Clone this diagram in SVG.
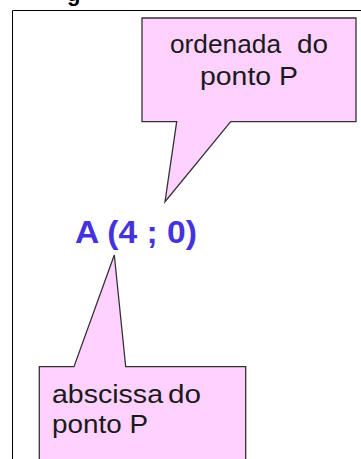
<svg xmlns="http://www.w3.org/2000/svg" width="361" height="459" viewBox="0 0 361 459">
  <style>
    .callout { fill: #ffd1ff; stroke: #333333; stroke-width: 1.3; stroke-linejoin: miter; }
    .lbl { font-family: "Liberation Sans", Arial, sans-serif; fill: #1a1a1a; }
    .pt { font-family: "Liberation Sans", Arial, sans-serif; font-weight: bold; fill: #4433dd; }
  </style>
  <rect width="361" height="459" fill="#ffffff"/>
  <g id="frame">
    <path d="M12.5,470 V10.5 H370" fill="none" stroke="#000000" stroke-width="1"/>
    <text x="67" y="0.5" font-family="Liberation Sans, Arial, sans-serif" font-weight="bold" font-size="22" fill="#000000">g</text>
  </g>
  <g id="ordenada">
    <path class="callout" d="M142,18 H356 V121.7 H230.7 L165,201.7 L176.7,121.7 H142 Z"/>
    <text class="lbl" y="53" font-size="26"><tspan x="170" textLength="111" lengthAdjust="spacingAndGlyphs">ordenada</tspan> <tspan x="297" textLength="31" lengthAdjust="spacingAndGlyphs">do</tspan></text>
    <text class="lbl" x="200" y="85" font-size="26" textLength="98" lengthAdjust="spacingAndGlyphs">ponto P</text>
  </g>
  <g id="pontoA">
    <text class="pt" x="75" y="243" font-size="32" textLength="122" lengthAdjust="spacingAndGlyphs">A (4 ; 0)</text>
  </g>
  <g id="abscissa">
    <path class="callout" d="M39.3,366.7 H74 L114.3,255 L125.7,366.7 H245.7 V470 H39.3 Z"/>
    <text class="lbl" y="403" font-size="26"><tspan x="52" textLength="111" lengthAdjust="spacingAndGlyphs">abscissa</tspan> <tspan x="168" textLength="33" lengthAdjust="spacingAndGlyphs">do</tspan></text>
    <text class="lbl" x="52" y="433" font-size="26" textLength="96" lengthAdjust="spacingAndGlyphs">ponto P</text>
  </g>
</svg>
